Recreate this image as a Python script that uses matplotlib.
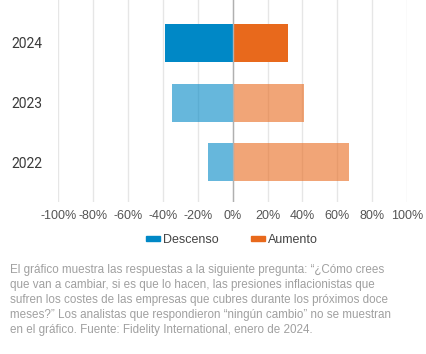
import matplotlib.pyplot as plt
import numpy as np

years = ['2022', '2023', '2024']
descenso = [-14, -35, -39]
aumento = [67, 41, 32]
xticks = [-100, -80, -60, -40, -20, 0, 20, 40, 60, 80, 100]

blue = '#0088C6'
orange = '#E8691C'

fig = plt.figure(figsize=(4.27, 3.54), dpi=100)
ax = fig.add_axes([0.137, 0.43, 0.816, 0.57])

y = np.arange(len(years))
# el último año en color pleno, los anteriores más claros
alphas = [0.6, 0.6, 1.0]
for i in range(len(years)):
    ax.barh(y[i], descenso[i], height=0.64, color=blue, alpha=alphas[i], zorder=3)
    ax.barh(y[i], aumento[i], height=0.64, color=orange, alpha=alphas[i], zorder=3)

ax.set_xlim(-100, 100)
ax.set_ylim(-0.66, 2.72)
ax.set_xticks(xticks)
ax.set_xticklabels(['%d%%' % v for v in xticks], fontsize=9, color='#555555',
                   family='Liberation Sans')
ax.set_yticks(y)
ax.set_yticklabels(years, fontsize=10, color='#3a3a3a', family='Roboto')
ax.tick_params(axis='both', length=0)
ax.tick_params(axis='x', pad=6)
ax.tick_params(axis='y', pad=11.5)
for s in ax.spines.values():
    s.set_visible(False)
ax.grid(axis='x', color='#e6e6e6', linewidth=1, zorder=0)
ax.axvline(0, color='#b0b0b0', linewidth=1, zorder=4)

# leyenda
handles = [plt.Rectangle((0, 0), 1, 1, color=blue), plt.Rectangle((0, 0), 1, 1, color=orange)]
fig.legend(handles, ['Descenso', 'Aumento'], loc='center', bbox_to_anchor=(0.543, 0.322),
           ncol=2, frameon=False, handlelength=1.1, handleheight=0.35, handletextpad=0.25,
           columnspacing=2.6, prop={'family': 'Liberation Sans', 'size': 9},
           labelcolor='#444444')

nota = ('El gráfico muestra las respuestas a la siguiente pregunta: “¿Cómo crees\n'
        'que van a cambiar, si es que lo hacen, las presiones inflacionistas que\n'
        'sufren los costes de las empresas que cubres durante los próximos doce\n'
        'meses?” Los analistas que respondieron “ningún cambio” no se muestran\n'
        'en el gráfico. Fuente: Fidelity International, enero de 2024.')
fig.text(0.024, 0.253, nota, ha='left', va='top', fontsize=8.4, color='#a0a0a0',
         family='Liberation Sans', linespacing=1.32)

fig.savefig('out.png', dpi=100)
